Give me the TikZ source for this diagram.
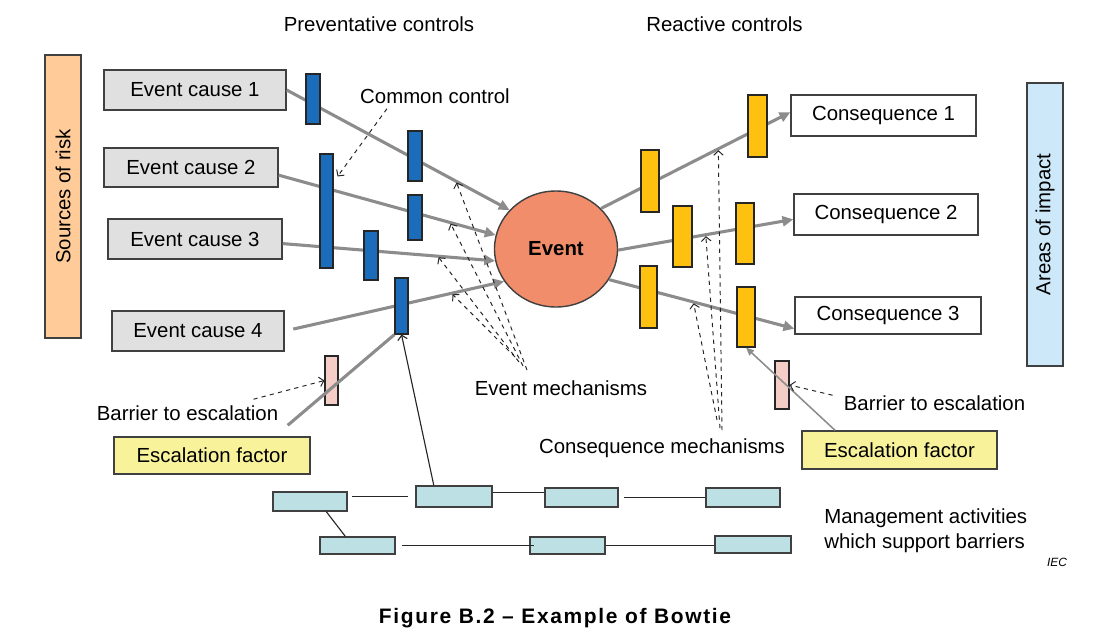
\documentclass[tikz,border=0pt]{standalone}
\usepackage{fontspec}
\setmainfont{Liberation Sans}
\newfontfamily\capfont[LetterSpace=8]{Liberation Sans}
\usetikzlibrary{arrows.meta,calc,shapes.geometric}
\definecolor{riskfill}{HTML}{FFCC99}
\definecolor{impactfill}{HTML}{CCE8F9}
\definecolor{causefill}{HTML}{E0E0E0}
\definecolor{eventfill}{HTML}{F18D6A}
\definecolor{ctrlblue}{HTML}{1B6CBB}
\definecolor{ctrlgold}{HTML}{FEC10F}
\definecolor{barpink}{HTML}{F5CDC7}
\definecolor{escfill}{HTML}{F8F39B}
\definecolor{mgmtfill}{HTML}{BCE0E4}
\definecolor{flowgray}{HTML}{8C8C8C}
\def\bodyfont{\fontsize{14.5}{17.8}\selectfont}
\tikzset{
    wh/.style 2 args={minimum width=#1*0.025cm, minimum height=#2*0.025cm},
    box/.style={draw=black!75, line width=1pt, inner sep=0pt, font=\bodyfont},
    side/.style={box, rotate=90},
    ctrl/.style={box, line width=0.8pt, draw=black!85},
    lbl/.style={inner sep=0pt, font=\bodyfont},
    flow/.style={draw=flowgray, line width=2.2pt, -{Triangle[length=0.27cm,width=0.25cm]}},
    thinflow/.style={draw=flowgray, line width=1.1pt, -{Triangle[length=0.2cm,width=0.17cm]}},
    mech/.style={draw=black!85, dashed, line width=0.7pt, -{Straight Barb[length=0.11cm,width=0.24cm]}},
    link/.style={draw=black!85, line width=0.8pt}
}

\begin{document}
\begin{tikzpicture}[x=0.025cm, y=-0.025cm]
    \useasboundingbox (0,0) rectangle (1105,639);
    % headings
    \node[lbl] (prev) at (379,24) {Preventative controls};
    \node[lbl] (react) at (724.5,24) {Reactive controls};
    \node[lbl] (common) at (435,96) {Common control};
    % sources and areas
    \node[side, fill=riskfill, wh={283}{36}] (risk) at (63,196.5) {Sources of risk};
    \node[side, fill=impactfill, wh={283}{36}] (impact) at (1045,224.5) {Areas of impact};
    % causes
    \node[box, fill=causefill, wh={182}{40}] (cause1) at (195,90) {Event cause 1};
    \node[box, fill=causefill, wh={174}{39}] (cause2) at (191,167.5) {Event cause 2};
    \node[box, fill=causefill, wh={174}{40}] (cause3) at (195,239) {Event cause 3};
    \node[box, fill=causefill, wh={172}{40}] (cause4) at (198,331) {Event cause 4};
    % consequences
    \node[box, fill=white, wh={185}{41}] (con1) at (883.5,115.5) {Consequence 1};
    \node[box, fill=white, wh={184}{41}] (con2) at (886,214.5) {Consequence 2};
    \node[box, fill=white, wh={186}{37}] (con3) at (888,315.5) {Consequence 3};
    % the event
    \node[box, ellipse, fill=eventfill, wh={123}{116}, font=\bodyfont\bfseries] (event) at (556,249) {Event};
    % flows
    \draw[flow] (cause1.east) -- coordinate[pos=0.76] (f1) (event.140);
    \draw[flow] (cause2.-5) -- coordinate[pos=0.79] (f2) (event.167);
    \draw[flow] (cause3.-3) -- coordinate[pos=0.73] (f3) (event.191);
    \draw[flow, shorten <=0.22cm] (cause4.east) -- coordinate[pos=0.76] (f4) (event.212);
    \draw[flow] (event.42) -- coordinate[pos=0.62] (g1) (con1.178);
    \draw[flow] (event.359) -- coordinate[pos=0.5] (g2) (con2.183);
    \draw[flow] (event.330) -- coordinate[pos=0.455] (g3) (con3.188);
    % preventative controls
    \node[ctrl, fill=ctrlblue, wh={14}{50}] (bar1) at (313,99) {};
    \node[ctrl, fill=ctrlblue, wh={13}{114}] (bar2) at (326.5,211) {};
    \node[ctrl, fill=ctrlblue, wh={14}{50}] (bar3) at (415,156) {};
    \node[ctrl, fill=ctrlblue, wh={14}{45}] (bar4) at (415,217.5) {};
    \node[ctrl, fill=ctrlblue, wh={14}{49}] (bar5) at (371,255.5) {};
    \node[ctrl, fill=ctrlblue, wh={13}{56}] (bar6) at (401.5,306) {};
    % reactive controls
    \node[ctrl, fill=ctrlgold, wh={18}{62}] (gold1) at (650,181) {};
    \node[ctrl, fill=ctrlgold, wh={19}{62}] (gold2) at (757.5,126) {};
    \node[ctrl, fill=ctrlgold, wh={19}{61}] (gold3) at (682.5,236.5) {};
    \node[ctrl, fill=ctrlgold, wh={18}{61}] (gold4) at (745,233.5) {};
    \node[ctrl, fill=ctrlgold, wh={17}{62}] (gold5) at (648.5,297) {};
    \node[ctrl, fill=ctrlgold, wh={18}{60}] (gold6) at (746,317) {};
    % escalation
    \node[ctrl, fill=barpink, wh={13}{49}] (pinkL) at (331.5,380.5) {};
    \node[ctrl, fill=barpink, wh={14}{48}] (pinkR) at (782,385) {};
    \node[box, fill=escfill, wh={196}{37}] (esc1) at (212,455.5) {Escalation factor};
    \node[box, fill=escfill, wh={195}{38}] (esc2) at (899.5,450) {Escalation factor};
    \node[lbl] (barrierL) at (187.5,413) {Barrier to escalation};
    \node[lbl] (barrierR) at (934.5,403) {Barrier to escalation};
    \draw[flow, -] ($(esc1.north east)+(-23,-11)$) -- (bar6.south west);
    \draw[thinflow] (esc2.163) -- (gold6.south);
    \draw[mech] ($(barrierL.north east)+(-25,-6)$) -- (pinkL.west);
    \draw[mech] ($(barrierR.north west)+(-11,0)$) -- (pinkR.east);
    % mechanisms
    \node[lbl] (evmech) at (561,388) {Event mechanisms};
    \node[lbl] (conmech) at (662,448) {Consequence mechanisms};
    \coordinate (em1) at (527,370);
    \coordinate (em2) at (523,366);
    \coordinate (em3) at (519,362);
    \coordinate (em4) at (515,357);
    \coordinate (cm1) at (722,430);
    \coordinate (cm2) at (720,428);
    \coordinate (cm3) at (717,420);
    \draw[mech, shorten >=1pt] (em1) -- (f1);
    \draw[mech, shorten >=1pt] (em2) -- (f2);
    \draw[mech, shorten >=1pt] (em3) -- (f3);
    \draw[mech, shorten >=1pt] (em4) -- (f4);
    \draw[mech, shorten >=1pt] (cm1) -- (g1);
    \draw[mech, shorten >=1pt] (cm2) -- (g2);
    \draw[mech, shorten >=1pt] (cm3) -- (g3);
    \draw[mech] ($(common.south west)+(27,5)$) -- ($(bar2.north east)+(4,23)$);
    % management activities
    \node[box, fill=mgmtfill, wh={74}{19}] (m1) at (310,501.5) {};
    \node[box, fill=mgmtfill, wh={76}{21}] (m2) at (454,496.5) {};
    \node[box, fill=mgmtfill, wh={73}{19}] (m3) at (581.5,497.5) {};
    \node[box, fill=mgmtfill, wh={74}{19}] (m4) at (743,497.5) {};
    \node[box, fill=mgmtfill, wh={75}{17}] (m5) at (357.5,545.5) {};
    \node[box, fill=mgmtfill, wh={75}{17}] (m6) at (567.5,545.5) {};
    \node[box, fill=mgmtfill, wh={76}{17}] (m7) at (753,544.5) {};
    \draw[link, shorten <=0.1cm, shorten >=0.18cm] (m1.east |- m2.west) -- (m2.west);
    \draw[link] (m2.6) -- (m2.6 -| m3.west);
    \draw[link, shorten <=0.12cm] (m3.east) -- (m4.west);
    \draw[link] (m1.-32) -- (m5.143);
    \draw[link, shorten <=0.15cm] (m5.east) -- ([xshift=0.12cm]m6.west);
    \draw[link] (m6.east) -- (m6.east -| m7.west);
    \draw[link, -{Straight Barb[length=0.11cm,width=0.24cm]}] (m2.151) -- (bar6.south);
    \node[lbl, align=left, anchor=west] (mgmt) at (824,530.5) {Management activities\\which support barriers};
    \node[lbl, font=\fontsize{8.5}{10}\selectfont\itshape] (iec) at (1057,562) {IEC};
    \node[lbl, font=\capfont\fontsize{14.9}{17}\selectfont\bfseries] (caption) at (555,618) {Figure B.2 – Example of Bowtie};
\end{tikzpicture}
\end{document}
